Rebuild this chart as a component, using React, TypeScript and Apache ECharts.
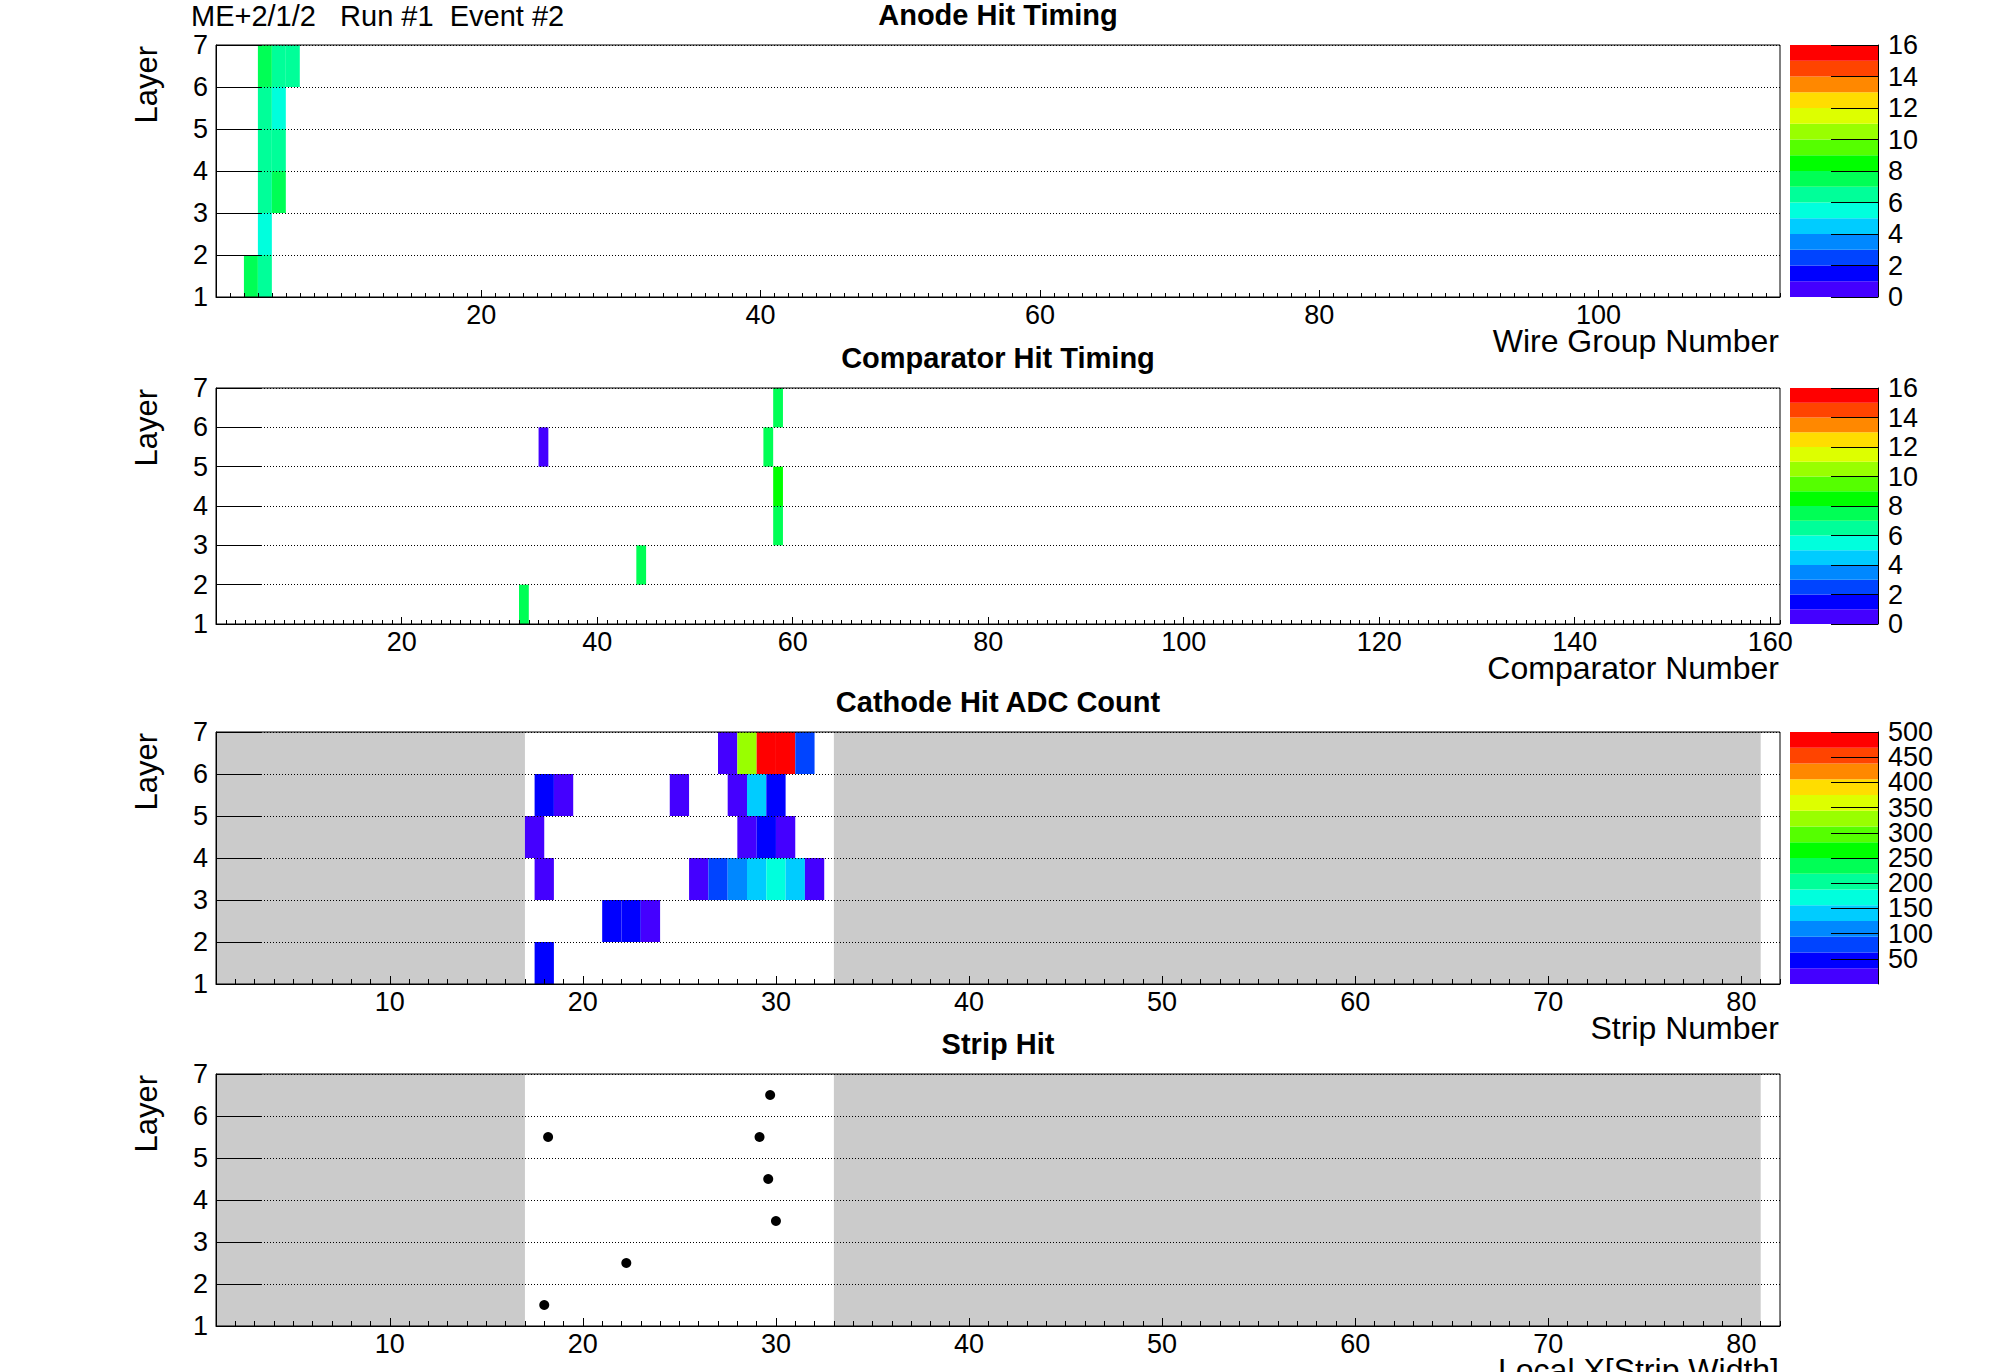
import React, { useEffect, useRef } from 'react';
import * as echarts from 'echarts';

// ROOT-like 16-level rainbow palette
const PALETTE = ['#4400ff', '#0000ff', '#0044ff', '#0088ff', '#00ccff', '#00ffdd', '#00ff99', '#00ff55', '#00ff00', '#55ff00', '#99ff00', '#ddff00', '#ffdd00', '#ff8800', '#ff4400', '#ff0000'];

const HEADER = 'ME+2/1/2   Run #1  Event #2';
const PANEL_TITLES = ['Anode Hit Timing', 'Comparator Hit Timing', 'Cathode Hit ADC Count', 'Strip Hit'];
const X_TITLES = ['Wire Group Number', 'Comparator Number', 'Strip Number', 'Local X[Strip Width]'];
const Y_TITLE = 'Layer';

const LAYER_RANGE = [1, 7];
const WIRE_RANGE = [1, 113];
const WIRE_LABELS = [20, 40, 60, 80, 100];
const COMP_RANGE = [1, 161];
const COMP_LABELS = [20, 40, 60, 80, 100, 120, 140, 160];
const STRIP_RANGE = [1, 82];
const STRIP_LABELS = [10, 20, 30, 40, 50, 60, 70, 80];
const TIME_RANGE = [0, 16];
const TIME_TICKS = [0, 2, 4, 6, 8, 10, 12, 14, 16];
const ADC_RANGE = [0, 500];
const ADC_TICKS = [50, 100, 150, 200, 250, 300, 350, 400, 450, 500];

// [wire group, layer, time bin]
const anodeHits = [
  [3, 1, 7], [4, 1, 6],
  [4, 2, 5],
  [4, 3, 6], [5, 3, 7],
  [4, 4, 6], [5, 4, 6],
  [4, 5, 6], [5, 5, 5],
  [4, 6, 7], [5, 6, 6], [6, 6, 6],
];

// [comparator, layer, time bin]
const comparatorHits = [
  [32, 1, 7],
  [44, 2, 7],
  [58, 3, 7],
  [58, 4, 8],
  [34, 5, 0], [57, 5, 7],
  [58, 6, 7],
];

// [strip low edge (odd layers staggered by half a strip), layer, ADC count]
const cathodeHits = [
  [17.5, 1, 45],
  [21, 2, 45], [22, 2, 45], [23, 2, 20],
  [17.5, 3, 20], [25.5, 3, 20], [26.5, 3, 80], [27.5, 3, 110], [28.5, 3, 140], [29.5, 3, 170], [30.5, 3, 140], [31.5, 3, 20],
  [17, 4, 20], [28, 4, 20], [29, 4, 45], [30, 4, 20],
  [17.5, 5, 45], [18.5, 5, 20], [24.5, 5, 20], [27.5, 5, 20], [28.5, 5, 140], [29.5, 5, 45],
  [27, 6, 20], [28, 6, 330], [29, 6, 500], [30, 6, 500], [31, 6, 80],
];

// [local x, layer]
const stripHits = [
  [18.0, 1], [22.25, 2], [30.0, 3], [29.6, 4], [18.2, 5], [29.15, 5], [29.7, 6],
];

// inactive strip ranges [from, to]
const inactiveStrips = [[1, 17], [33, 81]];

const FONT = 'Liberation Sans';
const TICK_FONT = 27;
const AXIS_TITLE_FONT = 32;
const TITLE_FONT = 29;

const GRID_LEFT = 216;
const GRID_W = 1564;
const GRID_TOPS = [45, 388, 732, 1074];
const GRID_HS = [252, 236, 252, 252];
const CB_LEFT = 1790;
const CB_W = 88;

function colorFor(v: number, range: number[]) {
  const n = PALETTE.length;
  let idx = Math.floor(((v - range[0]) / (range[1] - range[0])) * n);
  if (idx < 0) idx = 0;
  if (idx > n - 1) idx = n - 1;
  return PALETTE[idx];
}

function integersIn(r: number[]) {
  const out: number[] = [];
  for (let v = Math.ceil(r[0]); v <= r[1]; v++) out.push(v);
  return out;
}

function buildOption() {
  const panels = [
    { xr: WIRE_RANGE, labels: WIRE_LABELS, major: 7, minor: 4 },
    { xr: COMP_RANGE, labels: COMP_LABELS, major: 7, minor: 4 },
    { xr: STRIP_RANGE, labels: STRIP_LABELS, major: 8, minor: 5 },
    { xr: STRIP_RANGE, labels: STRIP_LABELS, major: 8, minor: 5 },
  ];
  const grid: any[] = [];
  const xAxis: any[] = [];
  const yAxis: any[] = [];
  const series: any[] = [];
  const graphic: any[] = [];

  panels.forEach((p, i) => {
    grid.push({
      left: GRID_LEFT, top: GRID_TOPS[i], width: GRID_W, height: GRID_HS[i],
      show: true, borderColor: '#000', borderWidth: 1, backgroundColor: 'rgba(0,0,0,0)', z: 6,
    });
    // major axis with labels
    xAxis.push({
      type: 'value', gridIndex: i, position: 'bottom', min: p.xr[0], max: p.xr[1], z: 5,
      axisLine: { show: true, onZero: false, lineStyle: { color: '#000', width: 1 } },
      axisTick: { show: true, inside: true, length: p.major, customValues: p.labels, lineStyle: { color: '#000', width: 1 } },
      axisLabel: { show: true, customValues: p.labels, color: '#000', fontSize: TICK_FONT, fontFamily: FONT, margin: 4, showMinLabel: true, showMaxLabel: true },
      splitLine: { show: false },
    });
    // minor ticks
    xAxis.push({
      type: 'value', gridIndex: i, position: 'bottom', min: p.xr[0], max: p.xr[1], z: 5,
      axisLine: { show: false, onZero: false },
      axisTick: { show: true, inside: true, length: p.minor, customValues: integersIn(p.xr), lineStyle: { color: '#000', width: 1 } },
      axisLabel: { show: false },
      splitLine: { show: false },
    });
    yAxis.push({
      type: 'value', gridIndex: i, position: 'left', min: LAYER_RANGE[0], max: LAYER_RANGE[1], interval: 1, z: 5,
      axisLine: { show: true, onZero: false, lineStyle: { color: '#000', width: 1 } },
      axisTick: { show: true, inside: true, length: 46, lineStyle: { color: '#000', width: 1 } },
      axisLabel: { show: true, color: '#000', fontSize: TICK_FONT, fontFamily: FONT, margin: 8, showMinLabel: true, showMaxLabel: true },
      splitLine: { show: true, lineStyle: { color: '#000', width: 1, type: [1, 2] } },
    });

    graphic.push({
      type: 'text', x: 998, y: GRID_TOPS[i] - 30, z: 10,
      style: { text: PANEL_TITLES[i], fontSize: TITLE_FONT, fontWeight: 'bold', fontFamily: FONT, fill: '#000', align: 'center', verticalAlign: 'middle' },
    });
    graphic.push({
      type: 'text', x: 1779, y: GRID_TOPS[i] + GRID_HS[i] + 44, z: 10,
      style: { text: X_TITLES[i], fontSize: AXIS_TITLE_FONT, fontFamily: FONT, fill: '#000', align: 'right', verticalAlign: 'middle' },
    });
    graphic.push({
      type: 'text', x: 146, y: GRID_TOPS[i] + 1, rotation: Math.PI / 2, z: 10,
      style: { text: Y_TITLE, fontSize: 31, fontFamily: FONT, fill: '#000', align: 'right', verticalAlign: 'middle' },
    });
  });

  const xi = (i: number) => i * 2;

  const cellSeries = (i: number, data: number[][], range: number[]) => ({
    type: 'custom', xAxisIndex: xi(i), yAxisIndex: i, z: 2, clip: true,
    data,
    renderItem: (params: any, api: any) => {
      const x0 = api.value(0);
      const layer = api.value(1);
      const v = api.value(2);
      const p0 = api.coord([x0, layer + 1]);
      const p1 = api.coord([x0 + 1, layer]);
      return {
        type: 'rect',
        shape: { x: p0[0], y: p0[1], width: p1[0] - p0[0], height: p1[1] - p0[1] },
        style: { fill: colorFor(v, range), stroke: null },
      };
    },
  });

  const inactiveSeries = (i: number) => ({
    type: 'custom', xAxisIndex: xi(i), yAxisIndex: i, z: 1, clip: true,
    data: inactiveStrips,
    renderItem: (params: any, api: any) => {
      const a = api.value(0);
      const b = api.value(1);
      const p0 = api.coord([a, LAYER_RANGE[1]]);
      const p1 = api.coord([b, LAYER_RANGE[0]]);
      return {
        type: 'rect',
        shape: { x: p0[0], y: p0[1], width: p1[0] - p0[0], height: p1[1] - p0[1] },
        style: { fill: '#cbcbcb', stroke: null },
      };
    },
  });

  series.push(cellSeries(0, anodeHits, TIME_RANGE));
  series.push(cellSeries(1, comparatorHits, TIME_RANGE));
  series.push(inactiveSeries(2));
  series.push(cellSeries(2, cathodeHits, ADC_RANGE));
  series.push(inactiveSeries(3));
  series.push({
    type: 'scatter', xAxisIndex: xi(3), yAxisIndex: 3, z: 3,
    symbol: 'circle', symbolSize: 10,
    itemStyle: { color: '#000', opacity: 1 },
    data: stripHits.map((h) => [h[0], h[1] + 0.5]),
  });

  // colour bars
  const bars = [
    { panel: 0, range: TIME_RANGE, ticks: TIME_TICKS },
    { panel: 1, range: TIME_RANGE, ticks: TIME_TICKS },
    { panel: 2, range: ADC_RANGE, ticks: ADC_TICKS },
  ];
  bars.forEach((b, k) => {
    const gi = 4 + k;
    grid.push({ left: CB_LEFT, top: GRID_TOPS[b.panel], width: CB_W, height: GRID_HS[b.panel], show: false });
    const xIndex = xAxis.length;
    xAxis.push({ type: 'value', gridIndex: gi, min: 0, max: 1, show: false });
    const yIndex = yAxis.length;
    const evenLabels = b.ticks.filter((_, j) => j % 2 === 0);
    const oddLabels = b.ticks.filter((_, j) => j % 2 === 1);
    const labelStyle = { color: '#000', fontSize: TICK_FONT, fontFamily: FONT, margin: 10, showMinLabel: true, showMaxLabel: true };
    // axis with line, ticks and every other label
    yAxis.push({
      type: 'value', gridIndex: gi, position: 'right', min: b.range[0], max: b.range[1], z: 5,
      axisLine: { show: true, onZero: false, lineStyle: { color: '#000', width: 1 } },
      axisTick: { show: true, inside: true, length: 47, customValues: b.ticks, lineStyle: { color: '#000', width: 1 } },
      axisLabel: { show: true, customValues: evenLabels, ...labelStyle },
      splitLine: { show: false },
    });
    // companion axis carrying the remaining labels
    yAxis.push({
      type: 'value', gridIndex: gi, position: 'right', offset: 0, min: b.range[0], max: b.range[1], z: 5,
      axisLine: { show: false, onZero: false },
      axisTick: { show: false },
      axisLabel: { show: true, customValues: oddLabels, ...labelStyle },
      splitLine: { show: false },
    });
    const step = (b.range[1] - b.range[0]) / PALETTE.length;
    series.push({
      type: 'custom', xAxisIndex: xIndex, yAxisIndex: yIndex, z: 2,
      data: PALETTE.map((_, idx) => [0, b.range[0] + idx * step, b.range[0] + (idx + 1) * step, idx]),
      renderItem: (params: any, api: any) => {
        const lo = api.value(1);
        const hi = api.value(2);
        const idx = api.value(3);
        const p0 = api.coord([0, hi]);
        const p1 = api.coord([1, lo]);
        return {
          type: 'rect',
          shape: { x: p0[0], y: p0[1], width: p1[0] - p0[0], height: p1[1] - p0[1] },
          style: { fill: PALETTE[idx], stroke: null },
        };
      },
    });
  });

  graphic.push({
    type: 'text', x: 191, y: 16, z: 10,
    style: { text: HEADER, fontSize: 29, fontFamily: FONT, fill: '#000', align: 'left', verticalAlign: 'middle' },
  });

  return {
    animation: false,
    backgroundColor: '#ffffff',
    textStyle: { fontFamily: FONT },
    grid, xAxis, yAxis, series, graphic,
  };
}

export default function App() {
  const ref = useRef<HTMLDivElement>(null);
  useEffect(() => {
    document.body.style.margin = '0';
    document.body.style.overflow = 'hidden';
    if (!ref.current) return;
    const chart = echarts.init(ref.current, undefined, { renderer: 'svg' });
    chart.setOption(buildOption() as any);
    return () => chart.dispose();
  }, []);
  return <div ref={ref} style={{ width: 1996, height: 1372 }} />;
}
